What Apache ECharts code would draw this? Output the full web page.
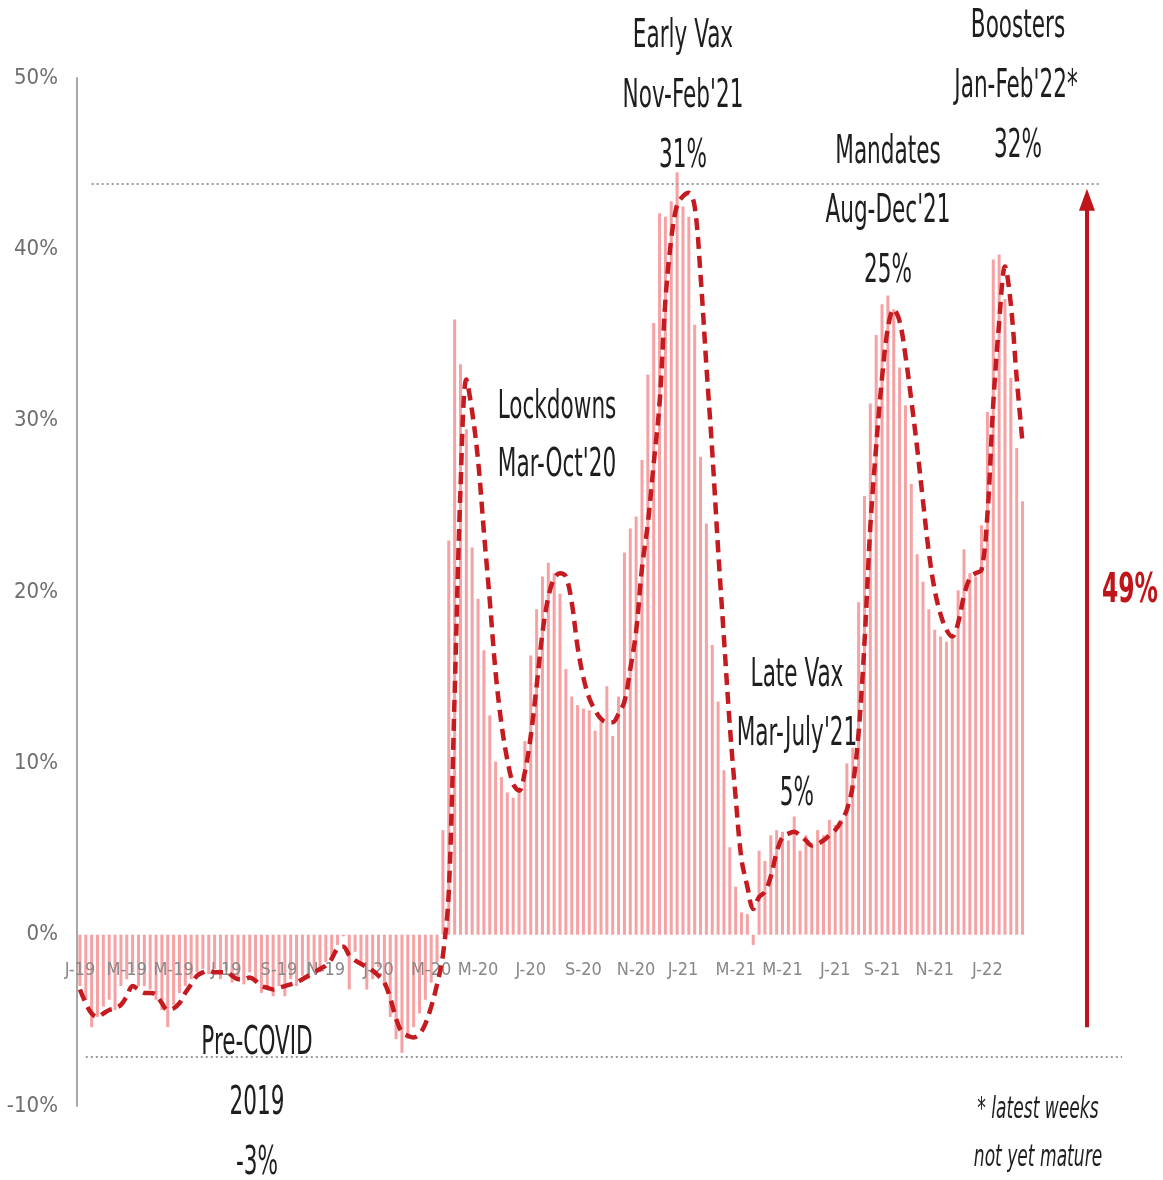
<!DOCTYPE html>
<html>
<head>
<meta charset="utf-8">
<script src="https://cdn.jsdelivr.net/npm/echarts@6/dist/echarts.min.js"></script>
<style>
html,body{margin:0;padding:0;background:#fff;}
#chart{width:1163px;height:1180px;}
</style>
</head>
<body>
<div id="chart"></div>
<script>
// ---- Data (weekly, Jan 2019 - Feb 2022) ----
const weeklyChange = [
  -3.0,-3.8,-5.4,-4.8,-4.2,-3.8,-4.4,-3.0,-2.6,-2.2,
  -3.0,-3.0,-3.2,-3.8,-4.4,-5.4,-4.1,-3.4,-3.0,-2.6,
  -2.2,-2.0,-2.3,-2.0,-2.6,-2.1,-2.8,-2.5,-2.9,-2.2,
  -2.8,-3.4,-3.0,-3.6,-3.0,-3.6,-2.6,-3.0,-2.4,-2.6,
  -2.0,-2.2,-1.6,-1.5,-0.6,-0.1,-3.2,-1.0,-1.8,-3.2,
  -2.6,-1.9,-3.0,-4.8,-6.1,-6.9,-6.1,-5.4,-4.6,-3.8,
  -2.8,-1.6,
  6.1,23.0,35.9,33.3,29.5,22.6,19.6,16.6,
  12.8,10.1,9.2,8.3,8.0,8.3,11.3,16.3,19.0,20.9,
  21.7,21.1,19.9,15.5,13.9,13.4,13.2,13.1,11.9,12.5,
  14.5,11.6,13.9,22.3,23.7,24.4,27.7,32.7,35.7,42.1,
  41.9,42.8,44.5,42.5,41.9,35.6,27.9,24.0,16.9,13.6,
  9.6,5.1,2.8,1.3,1.2,-0.6,4.9,4.3,5.8,6.1,
  6.0,5.5,6.9,4.9,5.8,5.2,6.1,5.8,6.7,6.4,
  6.7,10.0,10.9,19.4,25.6,31.0,35.0,36.8,37.3,36.5,
  33.1,30.9,26.3,22.2,20.6,19.0,17.8,17.4,17.1,17.4,
  20.1,22.5,21.1,20.9,23.9,30.5,39.4,39.7,37.1,32.5,
  28.4,25.3
];
const movingAverage = [
  -3.2,-4.0,-4.6,-4.8,-4.6,-4.4,-4.3,-4.1,-3.6,-3.0,
  -3.2,-3.4,-3.4,-3.5,-4.0,-4.4,-4.3,-4.0,-3.4,-2.9,
  -2.4,-2.2,-2.1,-2.2,-2.2,-2.2,-2.4,-2.6,-2.6,-2.5,
  -2.7,-3.0,-3.1,-3.2,-3.1,-3.0,-2.9,-2.8,-2.6,-2.4,
  -2.2,-2.0,-1.8,-1.4,-0.8,-0.7,-1.2,-1.5,-1.7,-1.9,
  -2.1,-2.4,-2.8,-3.7,-4.9,-5.7,-5.9,-6.0,-5.8,-5.2,
  -4.2,-2.9,-1.2,2.5,14.0,26.0,32.4,30.5,27.7,23.5,
  19.5,15.3,12.3,10.2,8.8,8.4,9.5,11.6,14.5,17.6,
  19.7,20.8,21.1,20.9,19.4,16.8,15.0,13.8,13.1,12.6,
  12.4,12.4,12.9,13.6,15.5,17.7,21.4,24.0,27.5,31.0,
  37.0,40.6,42.6,43.1,43.3,42.5,38.5,33.2,28.2,22.5,
  17.3,12.2,8.0,4.4,2.8,1.5,2.2,2.5,3.4,4.8,
  5.7,5.9,6.0,5.8,5.5,5.2,5.3,5.5,5.8,6.1,
  6.6,7.3,8.7,11.8,17.0,23.8,28.5,32.5,35.4,36.5,
  35.8,33.8,31.2,28.4,25.3,22.3,20.1,18.7,17.8,17.4,
  18.2,19.8,20.8,21.1,21.3,24.5,31.0,35.7,39.0,36.8,
  32.5,28.7
];
const tickLabels = ["J-19","M-19","M-19","J-19","S-19","N-19","J-20","M-20","M-20","J-20","S-20","N-20","J-21","M-21","M-21","J-21","S-21","N-21","J-22"];
const tickWeeks  = [0,8,16,25,34,42,51,60,68,77,86,95,103,112,120,129,137,146,155];
const yMin = -10, yMax = 50, yStep = 10;
const peakLevel = 43.8;     // top dotted reference
const troughLevel = -7.1;   // bottom dotted reference
const spreadLabel = "49%";
const padWeeks = 17;        // empty slots to the right for arrow/reference lines
const arrowWeek = 172;

// ---- Build categories ----
const totalSlots = weeklyChange.length + padWeeks;
const categories = [];
for (let i = 0; i < totalSlots; i++) categories.push('w' + i);
const tickMap = {};
tickWeeks.forEach((w, k) => { tickMap[w] = tickLabels[k]; });
const pad = new Array(padWeeks).fill(null);

const FONT = '"Liberation Sans Narrow","DejaVu Sans Condensed","Roboto Condensed","Liberation Sans",sans-serif';
const GRID = {left: 77, right: 38, top: 78, bottom: 74};
const H = 1180;
const plotH = H - GRID.top - GRID.bottom;
// put the category axis on the zero line of the value axis
const zeroOffset = -plotH * (0 - yMin) / (yMax - yMin);

const chart = echarts.init(document.getElementById('chart'), null, {renderer: 'canvas'});

function txt(text, x, y, size, opts) {
  opts = opts || {};
  return {
    type: 'text', x: x, y: y, scaleY: opts.sy || 1.62, z: 100,
    style: {
      text: text, fontFamily: FONT, fontSize: size,
      fontWeight: opts.weight || 'normal', fontStyle: opts.style || 'normal',
      fill: opts.color || '#1e1e1e', align: 'center', verticalAlign: 'middle'
    }
  };
}

const option = {
  animation: false,
  backgroundColor: '#ffffff',
  grid: Object.assign({containLabel: false}, GRID),
  xAxis: {
    type: 'category',
    data: categories,
    boundaryGap: true,
    position: 'bottom',
    offset: zeroOffset,
    z: 3,
    axisLine: {show: false, onZero: false},
    axisTick: {show: false},
    splitLine: {show: false},
    axisLabel: {
      interval: (idx) => tickMap[idx] !== undefined,
      formatter: (val, idx) => tickMap[idx] || '',
      color: '#888888', fontFamily: FONT, fontSize: 18, margin: 27
    }
  },
  yAxis: {
    type: 'value', min: yMin, max: yMax, interval: yStep,
    axisLine: {show: true, onZero: false, lineStyle: {color: '#a8a8a8', width: 2}},
    axisTick: {show: false},
    splitLine: {show: false},
    axisLabel: {
      formatter: '{value}%', color: '#6e6e6e', fontFamily: FONT, fontSize: 22, margin: 19
    }
  },
  series: [
    {
      name: 'Weekly', type: 'bar',
      data: weeklyChange.concat(pad),
      barWidth: 3,
      itemStyle: {color: '#f6a2a4'},
      z: 2,
      markLine: {
        silent: true, symbol: ['none', 'none'],
        label: {show: false},
        lineStyle: {color: '#9a9a9a', type: [2, 3], width: 2},
        data: [
          [{coord: [categories[2], peakLevel]}, {coord: [categories[totalSlots - 5], peakLevel]}],
          [{coord: [categories[1], troughLevel]}, {coord: [categories[totalSlots - 1], troughLevel]}],
        ]
      }
    },
    {
      name: 'Moving average', type: 'line',
      data: movingAverage.concat(pad),
      smooth: 0.35,
      showSymbol: false, symbol: 'none',
      connectNulls: false,
      lineStyle: {color: '#c51a1f', width: 4.5, type: [12, 7], cap: 'butt'},
      z: 5,
      markLine: {
        silent: true, symbol: ['none', 'triangle'], symbolSize: [16, 22],
        label: {show: false},
        lineStyle: {color: '#c0141b', type: 'solid', width: 4},
        data: [
          [{coord: [categories[arrowWeek], -5.4]}, {coord: [categories[arrowWeek], peakLevel - 0.9]}]
        ]
      }
    }
  ],
  graphic: [
    txt('Early Vax', 683, 37, 24),
    txt("Nov-Feb'21", 683, 97, 24),
    txt('31%', 683, 157, 24),
    txt('Boosters', 1018, 27, 24),
    txt("Jan-Feb'22*", 1016, 87, 24),
    txt('32%', 1018, 147, 24),
    txt('Mandates', 888, 153, 24),
    txt("Aug-Dec'21", 888, 212, 24),
    txt('25%', 888, 272, 24),
    txt('Lockdowns', 557, 408, 24),
    txt("Mar-Oct'20", 557, 466, 24),
    txt('Late Vax', 797, 676, 24),
    txt("Mar-July'21", 797, 735, 24),
    txt('5%', 797, 795, 24),
    txt('Pre-COVID', 257, 1044, 24),
    txt('2019', 257, 1104, 24),
    txt('-3%', 257, 1164, 24),
    txt(spreadLabel, 1130, 592, 26, {weight: 'bold', color: '#c0141b', sy: 1.55}),
    txt('* latest weeks', 1038, 1110, 19, {style: 'italic', sy: 1.55}),
    txt('not yet mature', 1038, 1158, 19, {style: 'italic', sy: 1.55})
  ]
};
chart.setOption(option);
</script>
</body>
</html>
